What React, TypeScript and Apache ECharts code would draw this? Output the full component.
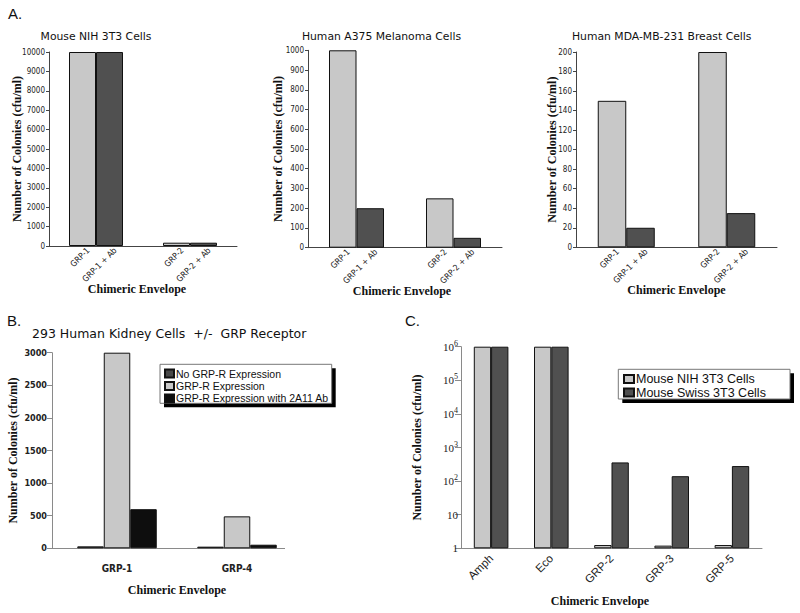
import React, { useEffect, useRef } from "react";
import * as echarts from "echarts";

// ---- Data ----
const A1_CATS = ["GRP-1", "GRP-2"];
const A1_NOAB = [10000, 170];
const A1_AB = [10000, 170];

const A2_CATS = ["GRP-1", "GRP-2"];
const A2_NOAB = [1000, 250];
const A2_AB = [200, 50];

const A3_CATS = ["GRP-1", "GRP-2"];
const A3_NOAB = [150, 200];
const A3_AB = [20, 35];

const B_CATS = ["GRP-1", "GRP-4"];
const B_NO_R = [30, 25];
const B_R = [3000, 490];
const B_R_AB = [600, 55];
const B_NAMES = ["No GRP-R Expression", "GRP-R Expression", "GRP-R Expression with 2A11 Ab"];

const C_CATS = ["Amph", "Eco", "GRP-2", "GRP-3", "GRP-5"];
const C_NIH = [1e6, 1e6, 1.25, 1.2, 1.25];
const C_SWISS = [1e6, 1e6, 360, 140, 280];
const C_NAMES = ["Mouse NIH 3T3 Cells", "Mouse Swiss 3T3 Cells"];

const A_TITLES = ["Mouse NIH 3T3 Cells", "Human A375 Melanoma Cells", "Human MDA-MB-231 Breast Cells"];
const Y_NAME = "Number of Colonies (cfu/ml)";
const X_NAME = "Chimeric Envelope";

const LIGHT = "#c8c8c8";
const DARK = "#505050";
const DARK_B = "#484848";
const BLACK = "#0e0e0e";
const NARROW = "'Liberation Sans Narrow', 'DejaVu Sans Condensed', 'Liberation Sans', sans-serif";
const SERIF = "'Liberation Serif', 'DejaVu Serif', serif";
const SANS = "'Liberation Sans', Arial, sans-serif";
const TITLE_FONT = "'DejaVu Sans', Verdana, sans-serif";

function App() {
  const ref = useRef<HTMLDivElement>(null);
  useEffect(() => {
    if (!ref.current) return;
    const chart = echarts.init(ref.current, undefined, { renderer: "svg" });

    const aPanels = [
      { cats: A1_CATS, noab: A1_NOAB, ab: A1_AB, max: 10000, interval: 1000, bw: 27, yGap: 26, xPad: 12 },
      { cats: A2_CATS, noab: A2_NOAB, ab: A2_AB, max: 1000, interval: 100, bw: 27.5, yGap: 24, xPad: 6 },
      { cats: A3_CATS, noab: A3_NOAB, ab: A3_AB, max: 200, interval: 20, bw: 28.5, yGap: 18, xPad: 0 },
    ];

    const grids = [
      { left: 49, top: 52, width: 188, height: 194 },
      { left: 308, top: 50.3, width: 194, height: 197.4 },
      { left: 576, top: 52, width: 201, height: 195.3 },
      { left: 57, top: 352.7, width: 240, height: 195.6 },
      { left: 461, top: 346.7, width: 301, height: 201.6 },
    ];

    const nameStyle = { fontFamily: SERIF, fontWeight: "bold", fontSize: 12, color: "#111" };
    const plain = (v: number) => String(v);

    const xAxis: any[] = [];
    const yAxis: any[] = [];
    const series: any[] = [];

    const barLabel = (fmt: string) => ({
      show: true,
      position: ["50%", "100%"],
      formatter: fmt,
      rotate: 45,
      align: "right",
      verticalAlign: "middle",
      offset: [2, 6],
      fontFamily: NARROW,
      fontSize: 8.5,
      color: "#222",
    });

    aPanels.forEach((p, i) => {
      xAxis.push({
        gridIndex: i,
        type: "category",
        data: p.cats,
        axisLine: { lineStyle: { color: "#444", width: 1 } },
        axisTick: { show: false },
        axisLabel: { show: false },
        name: X_NAME,
        nameLocation: "middle",
        nameGap: 37,
        nameMoveOverlap: false,
        nameTextStyle: { ...nameStyle, padding: [0, p.xPad, 0, 0] },
      });
      yAxis.push({
        gridIndex: i,
        type: "value",
        min: 0,
        max: p.max,
        interval: p.interval,
        splitLine: { show: false },
        axisLine: { show: true, lineStyle: { color: "#444", width: 1 } },
        axisTick: { show: true, length: 3, lineStyle: { color: "#444" } },
        axisLabel: { fontFamily: NARROW, fontSize: 8, color: "#222", margin: 4, formatter: plain },
        name: Y_NAME,
        nameLocation: "middle",
        nameGap: p.yGap,
        nameMoveOverlap: false,
        nameTextStyle: nameStyle,
      });
      series.push({
        name: "A" + (i + 1) + " no Ab",
        type: "bar",
        xAxisIndex: i,
        yAxisIndex: i,
        data: p.noab,
        barWidth: p.bw,
        barGap: "0%",
        itemStyle: { color: LIGHT, borderColor: "#111", borderWidth: 1 },
        label: barLabel("{b}"),
      });
      series.push({
        name: "A" + (i + 1) + " with Ab",
        type: "bar",
        xAxisIndex: i,
        yAxisIndex: i,
        data: p.ab,
        barWidth: p.bw,
        barGap: "0%",
        itemStyle: { color: DARK, borderColor: "#111", borderWidth: 1 },
        label: barLabel("{b} + Ab"),
      });
    });

    // Panel B
    xAxis.push({
      gridIndex: 3,
      type: "category",
      data: B_CATS,
      axisLine: { show: false },
      axisTick: { show: false },
      axisLabel: { fontFamily: NARROW, fontWeight: "bold", fontSize: 10, color: "#222", margin: 15 },
      name: X_NAME,
      nameLocation: "middle",
      nameGap: 36,
      nameMoveOverlap: false,
      nameTextStyle: nameStyle,
    });
    yAxis.push({
      gridIndex: 3,
      type: "value",
      min: 0,
      max: 3000,
      interval: 500,
      offset: 5,
      splitLine: { show: false },
      axisLine: { show: true, lineStyle: { color: "#8a8a8a", width: 1 } },
      axisTick: { show: true, length: 5, lineStyle: { color: "#8a8a8a" } },
      axisLabel: { fontFamily: NARROW, fontWeight: "bold", fontSize: 9, color: "#222", margin: 5, formatter: plain },
      name: Y_NAME,
      nameLocation: "middle",
      nameGap: 33,
      nameMoveOverlap: false,
      nameTextStyle: nameStyle,
    });
    const bColors = [DARK_B, LIGHT, BLACK];
    [B_NO_R, B_R, B_R_AB].forEach((d, k) => {
      series.push({
        name: B_NAMES[k],
        type: "bar",
        xAxisIndex: 3,
        yAxisIndex: 3,
        data: d,
        barWidth: 26.5,
        barGap: "0%",
        itemStyle: { color: bColors[k], borderColor: "#111", borderWidth: 1 },
      });
    });

    // Panel C
    xAxis.push({
      gridIndex: 4,
      type: "category",
      data: C_CATS,
      axisLine: { lineStyle: { color: "#8a8a8a", width: 1 } },
      axisTick: { show: false },
      axisLabel: { fontFamily: SANS, fontSize: 11.5, color: "#222", rotate: 45, margin: 8 },
      name: X_NAME,
      nameLocation: "middle",
      nameGap: 47,
      nameMoveOverlap: false,
      nameTextStyle: { ...nameStyle, padding: [0, 23, 0, 0] },
    });
    yAxis.push({
      gridIndex: 4,
      type: "log",
      logBase: 10,
      min: 1,
      max: 1e6,
      interval: 1,
      splitLine: { show: false },
      axisLine: { show: true, lineStyle: { color: "#8a8a8a", width: 1 } },
      axisTick: { show: true, length: 6, lineStyle: { color: "#8a8a8a" } },
      axisLabel: {
        margin: 3,
        formatter: (v: number) => {
          const e = Math.round(Math.log10(v));
          if (e === 0) return "{b|1}";
          if (e === 1) return "{b|10}";
          return "{b|10}{s|" + e + "}";
        },
        rich: {
          b: { fontFamily: SERIF, fontSize: 11, color: "#222", lineHeight: 14 },
          s: { fontFamily: SERIF, fontSize: 8, color: "#222", padding: [0, 0, 7, 0] },
        },
      },
      name: Y_NAME,
      nameLocation: "middle",
      nameGap: 38,
      nameMoveOverlap: false,
      nameTextStyle: nameStyle,
    });
    [C_NIH, C_SWISS].forEach((d, k) => {
      series.push({
        name: C_NAMES[k],
        type: "bar",
        xAxisIndex: 4,
        yAxisIndex: 4,
        data: d,
        barWidth: 17.3,
        barGap: "0%",
        itemStyle: { color: k === 0 ? LIGHT : DARK, borderColor: "#111", borderWidth: 1 },
      });
    });

    const aTitleX = [96, 381.5, 661.7];
    const graphic: any[] = [
      { type: "text", x: 8, y: 13, style: { text: "A.", font: "15px " + SANS, fill: "#111", textVerticalAlign: "middle" } },
      { type: "text", x: 7, y: 320, style: { text: "B.", font: "15px " + SANS, fill: "#111", textVerticalAlign: "middle" } },
      { type: "text", x: 405, y: 320, style: { text: "C.", font: "15px " + SANS, fill: "#111", textVerticalAlign: "middle" } },
      ...A_TITLES.map((t, i) => ({
        type: "text",
        x: aTitleX[i],
        y: 36,
        style: { text: t, font: "10.8px " + TITLE_FONT, fill: "#111", textAlign: "center", textVerticalAlign: "middle" },
      })),
      {
        type: "text",
        x: 32,
        y: 333,
        style: { text: "293 Human Kidney Cells  +/-  GRP Receptor", font: "12.5px " + TITLE_FONT, fill: "#111", textVerticalAlign: "middle" },
      },
      // panel B baseline
      { type: "line", shape: { x1: 47, y1: 548.5, x2: 285, y2: 548.5 }, style: { stroke: "#8a8a8a", lineWidth: 1 }, z: 0 },
      // legend boxes with drop shadows
      { type: "rect", shape: { x: 164, y: 368.3, width: 171.7, height: 39 }, style: { fill: "#000" }, z: 0 },
      { type: "rect", shape: { x: 160, y: 364.3, width: 171.7, height: 39 }, style: { fill: "#fff", stroke: "#777", lineWidth: 1 }, z: 1 },
      { type: "rect", shape: { x: 622.3, y: 373.3, width: 171.7, height: 29.7 }, style: { fill: "#000" }, z: 0 },
      { type: "rect", shape: { x: 618.3, y: 369.3, width: 171.7, height: 29.7 }, style: { fill: "#fff", stroke: "#777", lineWidth: 1 }, z: 1 },
    ];

    chart.setOption({
      animation: false,
      backgroundColor: "#fff",
      grid: grids,
      xAxis,
      yAxis,
      series,
      graphic,
      legend: [
        {
          data: B_NAMES,
          orient: "vertical",
          left: 164,
          top: 367.6,
          padding: 0,
          itemGap: 0.4,
          itemWidth: 9,
          itemHeight: 8,
          icon: "rect",
          selectedMode: false,
          z: 5,
          textStyle: { fontFamily: SANS, fontSize: 10.5, lineHeight: 12, color: "#111", padding: [0, 0, 0, -3] },
        },
        {
          data: C_NAMES,
          orient: "vertical",
          left: 623,
          top: 372.5,
          padding: 0,
          itemGap: 0.5,
          itemWidth: 10,
          itemHeight: 8,
          icon: "rect",
          selectedMode: false,
          z: 5,
          textStyle: { fontFamily: SANS, fontSize: 12.5, lineHeight: 13, color: "#111", padding: [0, 0, 0, -3] },
        },
      ],
    });
    return () => chart.dispose();
  }, []);
  return <div ref={ref} style={{ position: "absolute", left: 0, top: 0, width: 800, height: 613 }} />;
}

export default App;
